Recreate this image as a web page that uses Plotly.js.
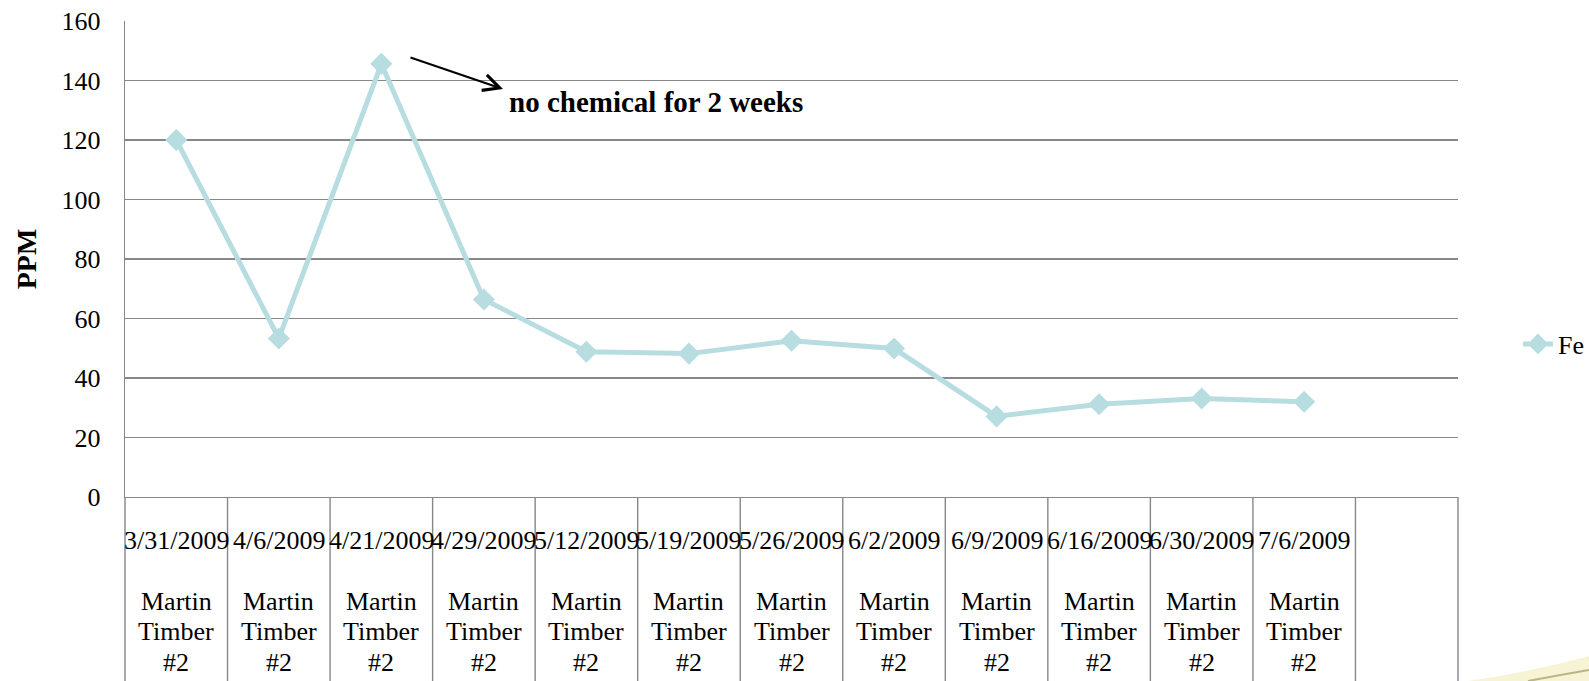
<!DOCTYPE html>
<html>
<head>
<meta charset="utf-8">
<script src="https://cdn.plot.ly/plotly-3.0.1.min.js"></script>
<style>
  html, body { margin: 0; padding: 0; background: #ffffff; }
  #chart { width: 1589px; height: 681px; }
</style>
</head>
<body>
<div id="chart"></div>
<script>
// Sample dates and site name for the category table under the plot
const dates = ['3/31/2009', '4/6/2009', '4/21/2009', '4/29/2009', '5/12/2009', '5/19/2009',
               '5/26/2009', '6/2/2009', '6/9/2009', '6/16/2009', '6/30/2009', '7/6/2009'];
const siteLines = ['Martin', 'Timber', '#2'];

// Iron concentration (PPM) per sample
const fe = [120, 53.3, 145.6, 66.4, 48.8, 48.2, 52.5, 49.9, 27.1, 31.2, 33.1, 32.0];

// Y axis ticks
const yTicks = [0, 20, 40, 60, 80, 100, 120, 140, 160];

// Number of category columns (one spare column after the last sample)
const slotCount = dates.length + 1;

const W = 1589, H = 681;
const M = { l: 125, r: 131, t: 21, b: 184, autoexpand: false };
const PW = W - M.l - M.r, PH = H - M.t - M.b;
// pixel -> paper helpers for layout decorations
const px = x => (x - M.l) / PW;
const py = y => (H - M.b - y) / PH;

const FONT = 'Liberation Serif, Times New Roman, serif';
const GRID = '#878787';
const TEAL = '#b7dde0';

const trace = {
  type: 'scatter',
  mode: 'lines+markers',
  name: 'Fe',
  x: dates,
  y: fe,
  line: { color: TEAL, width: 5 },
  marker: { symbol: 'diamond', size: 17, color: TEAL },
  cliponaxis: false
};

const shapes = [];
// vertical rules of the category table below the axis
for (let i = 0; i <= slotCount; i++) {
  shapes.push({
    type: 'line', xref: 'paper', yref: 'paper',
    x0: i / slotCount, x1: i / slotCount, y0: 0, y1: py(H),
    line: { color: GRID, width: 1.4 }
  });
}
// faint decorative swoosh in the lower right corner
const f = v => v.toFixed(5);
shapes.push({
  type: 'path', xref: 'paper', yref: 'paper',
  path: `M${f(px(1468))},${f(py(681))} Q${f(px(1530))},${f(py(672))} ${f(px(1589))},${f(py(656))} L${f(px(1589))},${f(py(681))} Z`,
  fillcolor: 'rgba(244,240,196,0.7)', line: { width: 0 }
});
shapes.push({
  type: 'path', xref: 'paper', yref: 'paper',
  path: `M${f(px(1528))},${f(py(681))} Q${f(px(1560))},${f(py(675))} ${f(px(1589))},${f(py(670))}`,
  line: { color: 'rgba(170,165,110,0.8)', width: 2 }
});

const annotations = [];
// date row and site rows of the category table
dates.forEach((d, i) => {
  annotations.push({
    x: d, xref: 'x', y: py(540), yref: 'paper', yanchor: 'middle',
    text: d, showarrow: false, font: { family: FONT, size: 26, color: '#000' }
  });
  siteLines.forEach((s, k) => {
    annotations.push({
      x: d, xref: 'x', y: py(601 + 30.5 * k), yref: 'paper', yanchor: 'middle',
      text: s, showarrow: false, font: { family: FONT, size: 26, color: '#000' }
    });
  });
});
// note about the spike
annotations.push({
  x: px(503), y: py(89), xref: 'paper', yref: 'paper',
  ax: -94, ay: -32, showarrow: true, arrowhead: 5, arrowsize: 1.6, arrowwidth: 2,
  arrowcolor: '#000', text: ''
});
annotations.push({
  x: px(507), y: py(102), xref: 'paper', yref: 'paper', xanchor: 'left', yanchor: 'middle',
  text: 'no chemical for 2 weeks', showarrow: false,
  font: { family: FONT, size: 29, color: '#000', weight: 'bold' }
});

const layout = {
  width: W, height: H,
  margin: M,
  paper_bgcolor: '#ffffff', plot_bgcolor: '#ffffff',
  font: { family: FONT, size: 26, color: '#000' },
  showlegend: true,
  legend: {
    x: px(1518), xanchor: 'left', y: py(344), yanchor: 'middle',
    font: { family: FONT, size: 26, color: '#000' },
    bgcolor: 'rgba(0,0,0,0)', borderwidth: 0
  },
  xaxis: {
    type: 'category',
    categoryorder: 'array', categoryarray: dates,
    range: [-0.5, slotCount - 0.5],
    showticklabels: false, ticks: '',
    showgrid: false, zeroline: false,
    showline: true, linecolor: GRID, linewidth: 1.4,
    fixedrange: true
  },
  yaxis: {
    range: [0, 160],
    tickvals: yTicks,
    ticktext: yTicks.map(String),
    ticks: '',
    ticklabelstandoff: 18,
    tickfont: { family: FONT, size: 26, color: '#000' },
    showgrid: true, gridcolor: GRID, gridwidth: 1.4,
    zeroline: false,
    showline: true, linecolor: GRID, linewidth: 1.4,
    title: { text: 'PPM', font: { family: FONT, size: 28, color: '#000', weight: 'bold' }, standoff: 16 },
    fixedrange: true
  },
  shapes: shapes,
  annotations: annotations
};

Plotly.newPlot('chart', [trace], layout, { staticPlot: true, displayModeBar: false });
</script>
</body>
</html>
